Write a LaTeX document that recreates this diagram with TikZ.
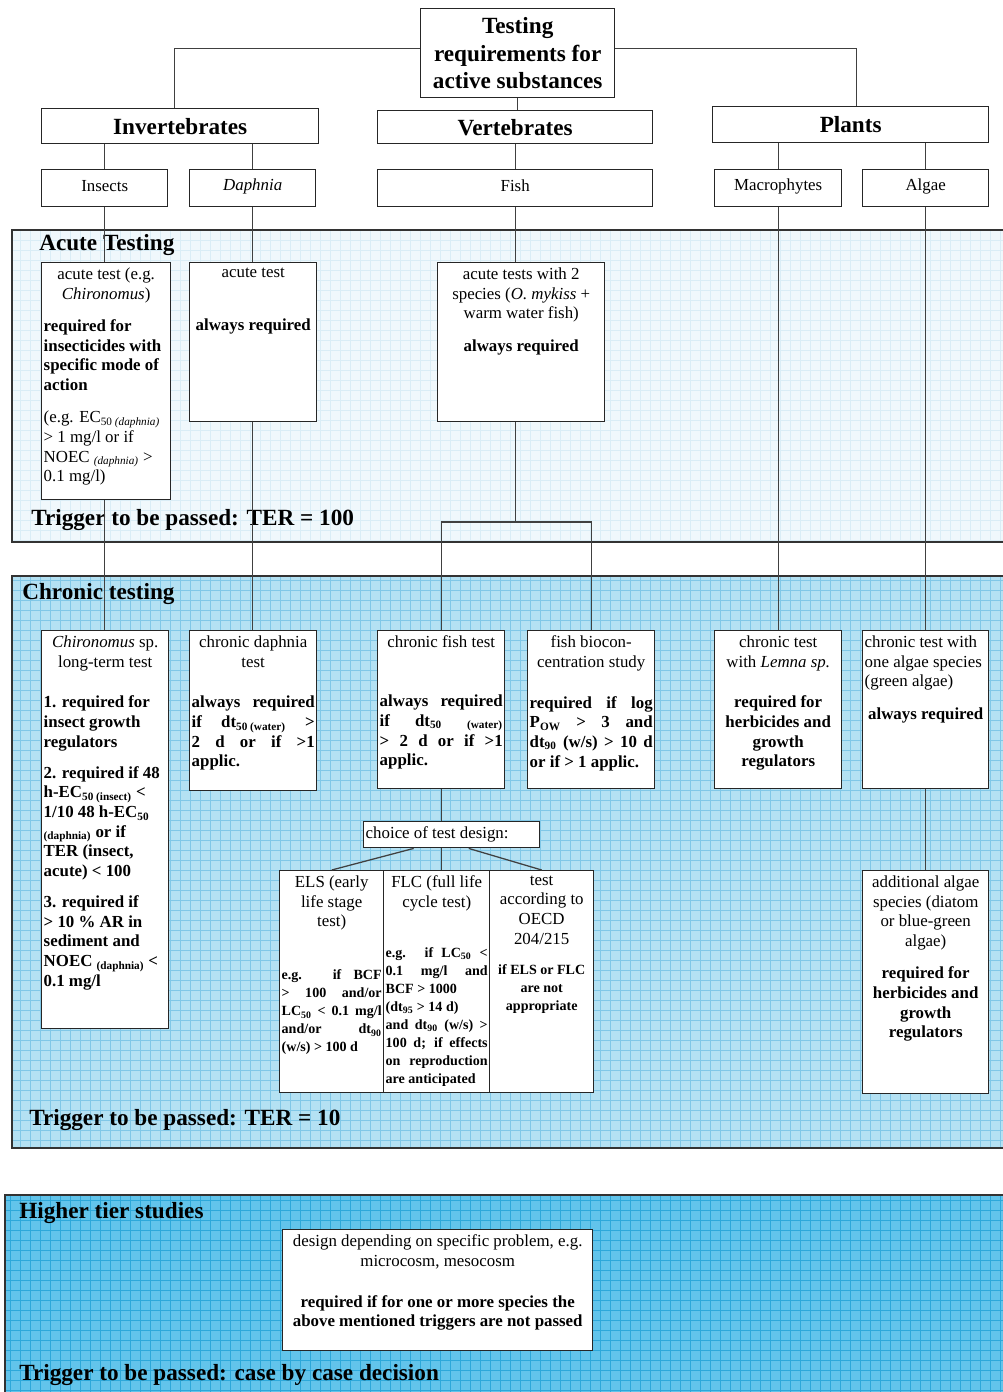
\documentclass[tikz,border=0pt]{standalone}
\usepackage{fontspec}
\setmainfont{Liberation Serif}
\usepackage{xcolor}
\usepackage{tikz}
\usetikzlibrary{calc}
\newdimen\px \px=0.25mm
\newcommand{\headfont}{\fontsize{16.5}{19.5}\selectfont\bfseries}
\newcommand{\boxfont}{\fontsize{12}{14}\selectfont}
\newcommand{\notefont}{\fontsize{10}{12.8}\selectfont\bfseries}
% box text: [valign]{width}{height}{text}, sizes in px
\newcommand{\cell}[4][t]{\parbox[t][\dimexpr#3\px-10\px\relax][#1]{\dimexpr#2\px-4\px\relax}{\boxfont#4}}
\definecolor{acutebg}{RGB}{240,248,252}
\definecolor{acuteln}{RGB}{218,237,246}
\definecolor{chronbg}{RGB}{180,225,243}
\definecolor{chronln}{RGB}{128,199,231}
\definecolor{highbg}{RGB}{98,196,235}
\definecolor{highln}{RGB}{45,168,218}

\begin{document}
\begin{tikzpicture}[
  x=0.25mm, y=-0.25mm,
  box/.style={draw=black!85,line width=1pt,fill=white,anchor=north west,
              inner xsep=0.5mm,inner ysep=1.25mm},
  conn/.style={draw=black!75,line width=0.9pt},
  frame/.style={draw=black!80,line width=1pt},
  mesh/.style={line width=0.5pt,step=2.5mm},
  panellbl/.style={anchor=west,inner sep=0pt,font=\headfont}
]
\useasboundingbox (0,0) rectangle (1003,1392);
\fill[white] (0,0) rectangle (1003,1392);

% panels
\fill[acutebg] (12,230) rectangle (1010,542);
\draw[mesh,acuteln] (12,230) grid (1003,542);
\draw[frame] (12,230) rectangle (1010,542);
\fill[chronbg] (12,576) rectangle (1010,1148);
\draw[mesh,chronln] (12,576) grid (1003,1148);
\draw[frame] (12,576) rectangle (1010,1148);
\fill[highbg] (5,1195) rectangle (1010,1400);
\draw[mesh,highln] (5,1195) grid (1003,1392);
\draw[frame] (5,1195) rectangle (1010,1400);

\node[panellbl] (acuteLbl) at (39,245) {Acute Testing};
\node[panellbl] (acuteTrig) at (31,520) {Trigger to be passed: TER = 100};
\node[panellbl] (chronLbl) at (22,594) {Chronic testing};
\node[panellbl] (chronTrig) at (29,1120) {Trigger to be passed: TER = 10};
\node[panellbl] (highLbl) at (19,1213) {Higher tier studies};
\node[panellbl] (highTrig) at (19,1375) {Trigger to be passed: case by case decision};

% hierarchy
\node[box] (title) at (420,8) {\cell[c]{194}{89}{\centering\headfont Testing\\requirements for\\active substances}};
\node[box] (inv) at (41,108) {\cell[c]{277}{35}{\centering\headfont Invertebrates}};
\node[box] (vert) at (377,110) {\cell[c]{275}{33}{\centering\headfont Vertebrates}};
\node[box] (plants) at (712,106) {\cell[c]{276}{36}{\centering\headfont Plants}};
\node[box] (insects) at (41,169) {\cell[c]{126}{37}{\centering Insects\vspace{3pt}}};
\node[box] (daphnia) at (189,169) {\cell[c]{126}{37}{\centering\textit{Daphnia}\vspace{3pt}}};
\node[box] (fish) at (377,169) {\cell[c]{275}{37}{\centering Fish\vspace{3pt}}};
\node[box] (macro) at (714,169) {\cell[c]{127}{37}{\centering Macrophytes\vspace{3pt}}};
\node[box] (algae) at (862,169) {\cell[c]{126}{37}{\centering Algae\vspace{3pt}}};

% acute tests
\node[box] (acIns) at (41,262) {\cell{129}{237}{{\centering acute test (e.g.\\\textit{Chironomus})\par}\vspace{9pt}{\raggedright\bfseries required for\\insecticides with\\specific mode of\\action\par}\vspace{9pt}{\raggedright (e.g. EC\textsubscript{50 \textit{(daphnia)}}\\> 1 mg/l or if\\NOEC \textsubscript{\textit{(daphnia)}} >\\0.1 mg/l)\par}}};
\node[box] (acDaph) at (189,262) {\cell{127}{159}{\centering acute test\par\vspace{24pt}\bfseries always required}};
\node[box] (acFish) at (437,262) {\cell{167}{159}{\centering acute tests with 2\\species (\textit{O. mykiss} +\\warm water fish)\par\vspace{9pt}\bfseries always required}};

% chronic tests
\node[box] (chIns) at (41,630) {\cell{127}{398}{{\centering\textit{Chironomus} sp.\\long-term test\par}\vspace{15pt}\raggedright\bfseries 1. required for\\insect growth\\regulators\par\vspace{8pt}2. required if 48\\h-EC\textsubscript{50 (insect)} <\\1/10 48 h-EC\textsubscript{50}\\\textsubscript{(daphnia)} or if\\TER (insect,\\acute) < 100\par\vspace{8pt}3. required if\\> 10 \% AR in\\sediment and\\NOEC \textsubscript{(daphnia)} <\\0.1 mg/l}};
\node[box] (chDaph) at (189,630) {\cell{127}{160}{{\centering chronic daphnia\\test\par}\vspace{15pt}\bfseries always required\linebreak if dt\textsubscript{50 (water)} >\linebreak 2 d or if >1\linebreak applic.}};
\node[box] (chFish) at (377,630) {\cell{127}{158}{{\centering chronic fish test\par}\vspace{28pt}\bfseries always required\linebreak if dt\textsubscript{50} \textsubscript{(water)}\linebreak > 2 d or if >1\linebreak applic.}};
\node[box] (bioc) at (527,630) {\cell{127}{158}{{\centering fish biocon-\\centration study\par}\vspace{15pt}\bfseries required if log\linebreak P\textsubscript{OW} > 3 and\linebreak dt\textsubscript{90} (w/s) > 10 d\linebreak or if > 1 applic.}};
\node[box] (chLem) at (714,630) {\cell{127}{158}{\centering chronic test\\with \textit{Lemna sp.}\par\vspace{15pt}\bfseries required for\\herbicides and\\growth\\regulators}};
\node[box] (chAlg) at (862,630) {\cell{126}{158}{{\raggedright chronic test with\\one algae species\\(green algae)\par}\vspace{9pt}\centering\bfseries always required}};
\node[box] (choice) at (363,821) {\cell[c]{176}{26}{choice of test design:}};
\node[box] (els) at (279,870) {\cell{104}{222}{{\centering ELS (early\\life stage\\test)\par}\vspace{25pt}\notefont e.g. if BCF\linebreak > 100 and/or\linebreak LC\textsubscript{50} < 0.1 mg/l\linebreak and/or dt\textsubscript{90}\linebreak (w/s) > 100 d}};
\node[box] (flc) at (383,870) {\cell{106}{222}{{\centering FLC (full life\\cycle test)\par}\vspace{23pt}\notefont e.g. if LC\textsubscript{50} <\linebreak 0.1 mg/l and\linebreak BCF > 1000\\(dt\textsubscript{95} > 14 d)\\and dt\textsubscript{90} (w/s) >\linebreak 100 d; if effects\linebreak on reproduction\linebreak are anticipated}};
\node[box] (oecd) at (489,870) {\cell{104}{222}{\centering test\\according to\\OECD\\204/215\par\vspace{9pt}\notefont if ELS or FLC\\are not\\appropriate}};
\node[box] (addAlg) at (862,870) {\cell{126}{223}{\centering additional algae\\species (diatom\\or blue-green\\algae)\par\vspace{9pt}\bfseries required for\\herbicides and\\growth\\regulators}};

% higher tier
\node[box] (higher) at (282,1229) {\cell{310}{121}{\centering design depending on specific problem, e.g.\\microcosm, mesocosm\par\vspace{15pt}\bfseries required if for one or more species the\\above mentioned triggers are not passed}};

% connectors
\draw[conn] ($(title.west)+(0,-5)$) -| ($(inv.north)+(-6,0)$);
\draw[conn] ($(title.east)+(0,-5)$) -| ($(plants.north)+(6,0)$);
\draw[conn] (title.south) -- (title.south |- vert.north);
\draw[conn] (insects.north |- inv.south) -- (insects.north);
\draw[conn] (daphnia.north |- inv.south) -- (daphnia.north);
\draw[conn] (vert.south) -- (fish.north);
\draw[conn] (macro.north |- plants.south) -- (macro.north);
\draw[conn] (algae.north |- plants.south) -- (algae.north);

\draw[conn] (insects.south) -- (insects.south |- acIns.north);
\draw[conn] (insects.south |- acIns.south) -- (insects.south |- chIns.north);
\draw[conn] (daphnia.south) -- (daphnia.south |- acDaph.north);
\draw[conn] (daphnia.south |- acDaph.south) -- (daphnia.south |- chDaph.north);
\draw[conn] (fish.south) -- (fish.south |- acFish.north);
\coordinate (fsplit) at (fish.south |- 0,522);
\draw[conn] (fish.south |- acFish.south) -- (fsplit);
\draw[conn] (chFish.north) |- (fsplit) -| (bioc.north);
\draw[conn] (macro.south) -- (macro.south |- chLem.north);
\draw[conn] (algae.south) -- (algae.south |- chAlg.north);
\draw[conn] (algae.south |- chAlg.south) -- (algae.south |- addAlg.north);

\draw[conn] (chFish.south) -- (chFish.south |- choice.north);
\draw[conn] (chFish.south |- choice.south) -- (chFish.south |- flc.north);
\draw[conn] ($(choice.south)+(-38,0)$) -- (els.north);
\draw[conn] ($(choice.south)+(17,0)$) -- (oecd.north);
\end{tikzpicture}
\end{document}
